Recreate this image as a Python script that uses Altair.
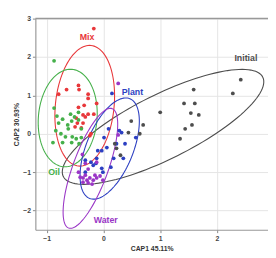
import altair as alt
import numpy as np
import pandas as pd

# ---- data ----
groups = ["Initial", "Mix", "Oil", "Plant", "Water"]
colors = ["#4d4d4d", "#e8373a", "#45b04a", "#2c3fc2", "#9a36c6"]

mix_x = [-0.17, -0.44, -0.43, -0.65, -0.79, -0.27, -0.27, -0.12, -0.44, -0.34, -0.27, -0.36,
         -0.48, -0.32, -0.46, -0.36, -0.50, -0.39, -0.24, -0.17, -0.22]
mix_y = [2.74, 1.26, 1.15, 1.15, 1.03, 1.03, 0.92, 0.79, 0.69, 0.74, 0.51, 0.49,
         0.41, 0.44, 0.28, 0.28, 0.18, 0.15, -0.05, 0.51, 0.00]

oil_x = [-0.87, -0.87, -0.82, -0.58, -0.44, -0.72, -0.56, -0.51, -0.44, -0.79, -0.63, -0.39,
         -0.62, -0.84, -0.75, -0.67, -0.55, -0.48, -0.39, -0.89, -0.72, -0.56, -0.43]
oil_y = [1.90, 0.67, 0.46, 0.51, 0.56, 0.38, 0.33, 0.44, 0.36, 0.28, 0.23, 0.13,
         0.13, 0.08, 0.00, -0.08, -0.08, -0.13, -0.10, -0.23, -0.23, -0.23, -0.26]

plant_x = [0.15, 0.09, 0.32, 0.01, 0.23, 0.38, 0.57, 0.06, -0.03, 0.18, 0.35, -0.12,
           -0.13, -0.03, 0.13, -0.22, -0.32, -0.18, -0.32, -0.01, 0.28, -0.10]
plant_y = [1.05, 0.13, 0.03, -0.10, -0.26, -0.26, -0.10, -0.36, -0.44, -0.64, -0.64, -0.64,
           -0.77, -0.90, -0.87, -0.74, -0.69, -0.82, -1.00, -1.00, 0.08, -0.44]

water_x = [0.26, 0.26, -0.37, -0.32, -0.12, -0.27, -0.41, -0.36, -0.29, -0.24, -0.18, -0.27,
           -0.12, -0.06, -0.32, -0.36, -0.20, -0.15, -0.01, -0.44]
water_y = [1.31, -0.03, -0.54, -0.77, -0.74, -0.92, -1.13, -1.15, -1.21, -1.15, -1.21, -1.28,
           -1.15, -1.10, -1.08, -1.26, -1.31, -1.08, -1.21, -1.00]

initial_x = [2.42, 2.28, 1.59, 1.42, 1.61, 1.54, 1.68, 1.56, 1.44, 1.35, 1.00, 0.49,
             0.70, 0.44, 0.64, 0.23, 0.30, 0.20]
initial_y = [1.41, 1.05, 1.15, 0.79, 0.79, 0.54, 0.49, 0.23, 0.13, -0.13, 0.56, 0.33,
             0.23, 0.03, 0.00, -0.38, -0.56, -0.26]

# ellipse parameters: centre (data units), semi-axes (px), angle (deg, screen)
ell_group = ["Initial", "Mix", "Oil", "Plant", "Water"]
ell_cx = [1.05, -0.33, -0.63, 0.11, -0.23]
ell_cy = [0.18, 0.73, 0.41, -0.385, -0.90]
ell_a = [114.0, 62.0, 50.0, 55.0, 65.0]
ell_b = [33.0, 30.0, 30.0, 24.0, 18.0]
ell_ang = [26.5, 84.0, 85.0, 68.0, 70.0]

lab_text = ["Initial", "Mix", "Oil", "Plant", "Water"]
lab_x = [2.51, -0.29, -0.87, 0.51, 0.04]
lab_y = [1.97, 2.51, -1.00, 1.08, -2.26]

x_ticks = [-1, 0, 1, 2]
y_ticks = [-2, -1, 0, 1, 2, 3]

# ---- layout ----
W, H = 238, 216
XD = [-1.2, 2.9]
YD = [-2.5, 3.0]
sx = W / (XD[1] - XD[0])
sy = H / (YD[1] - YD[0])

pts = []
for g, xs, ys in [("Mix", mix_x, mix_y), ("Oil", oil_x, oil_y), ("Plant", plant_x, plant_y),
                  ("Water", water_x, water_y), ("Initial", initial_x, initial_y)]:
    for a, b in zip(xs, ys):
        pts.append({"g": g, "x": a, "y": b})
pts = pd.DataFrame(pts)

t = np.linspace(0, 2 * np.pi, 121)
rows = []
for g, cx, cy, a, b, ang in zip(ell_group, ell_cx, ell_cy, ell_a, ell_b, ell_ang):
    th = np.deg2rad(ang)
    dx = a * np.cos(th) * np.cos(t) - b * np.sin(th) * np.sin(t)
    dy = a * np.sin(th) * np.cos(t) + b * np.cos(th) * np.sin(t)
    for i, (u, v) in enumerate(zip(dx, dy)):
        rows.append({"g": g, "i": i, "x": cx + u / sx, "y": cy + v / sy})
ell = pd.DataFrame(rows)

labs = pd.DataFrame({"g": lab_text, "x": lab_x, "y": lab_y})

cscale = alt.Scale(domain=groups, range=colors)
xs_ = alt.Scale(domain=XD, nice=False, zero=False)
ys_ = alt.Scale(domain=YD, nice=False, zero=False)

xax = alt.Axis(values=x_ticks, title="CAP1  45.11%", format="d")
yax = alt.Axis(values=y_ticks, title="CAP2  30.93%", format="d")

base_x = alt.X("x:Q", scale=xs_, axis=xax)
base_y = alt.Y("y:Q", scale=ys_, axis=yax)

ellipses = alt.Chart(ell).mark_line(strokeWidth=1.1, clip=True).encode(
    x=base_x, y=base_y, detail="g:N", order="i:Q",
    color=alt.Color("g:N", scale=cscale, legend=None))

points = alt.Chart(pts).mark_circle(size=15, opacity=1).encode(
    x=base_x, y=base_y, color=alt.Color("g:N", scale=cscale, legend=None))

labels = alt.Chart(labs).mark_text(fontSize=9, fontWeight="bold", font="Liberation Sans").encode(
    x=base_x, y=base_y, text="g:N", color=alt.Color("g:N", scale=cscale, legend=None))

top = alt.Chart(pd.DataFrame({"y": [3.0]})).mark_rule(color="#999999", strokeWidth=1.5).encode(
    y=base_y)

chart = alt.layer(ellipses, points, labels, top).properties(
    width=W, height=H,
    autosize=alt.AutoSizeParams(type="none"),
    padding={"left": 28, "top": 8, "right": 0, "bottom": 23},
).configure_view(stroke=None).configure_axis(
    labelFontSize=7, labelColor="#444444", labelFont="Liberation Sans", labelFontWeight="bold",
    titleFontSize=7, titleColor="#333333", titleFont="Liberation Sans", titleFontWeight="bold",
    tickColor="#888888", tickSize=3, domainColor="#999999", domainWidth=1.2,
    gridColor="#e4e4e4", gridWidth=1, labelPadding=2, titlePadding=3,
)

chart.save("out.html", embed_options={"renderer": "svg", "actions": False})
